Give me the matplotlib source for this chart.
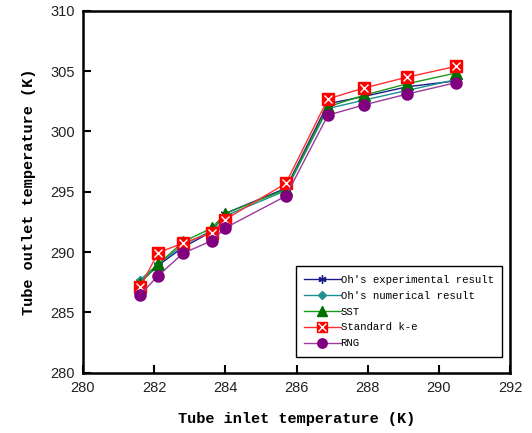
import matplotlib
matplotlib.use('Agg')
import matplotlib.pyplot as plt

# inlet temperatures (K)
t_in = [281.60, 282.11, 282.81, 283.62, 283.99, 285.70, 286.88, 287.89, 289.10, 290.48]

# outlet temperatures (K)
oh_exp = [287.5, 288.9, 290.4, 291.7, 293.2, 295.3, 302.3, 302.9, 303.7, 304.2]
oh_num = [287.7, 289.0, 290.6, 291.8, 293.0, 295.1, 301.9, 302.6, 303.4, 304.3]
sst = [287.4, 289.0, 290.85, 292.0, 293.2, 295.2, 302.05, 303.0, 303.95, 304.85]
ske = [287.1, 289.95, 290.75, 291.6, 292.7, 295.7, 302.7, 303.6, 304.5, 305.4]
rng = [286.45, 288.05, 289.9, 290.95, 292.0, 294.65, 301.35, 302.2, 303.1, 304.05]

labels = ["Oh's experimental result", "Oh's numerical result", "SST",
          "Standard k-e", "RNG"]

fig = plt.figure(figsize=(5.32, 4.33), dpi=100)
ax = fig.add_axes([0.156, 0.139, 0.803, 0.836])

l1, = ax.plot(t_in, oh_exp, color='#1a1a8c', lw=1.0, marker=(6, 2, 0),
              ms=7, mew=1.0)
l2, = ax.plot(t_in, oh_num, color='#1f8f8f', lw=1.0, marker='D', ms=4.5)
l3, = ax.plot(t_in, sst, color='#1a9a1a', lw=1.0, marker='^', ms=8,
              mfc='#007000', mec='#007000')
l4, = ax.plot(t_in, ske, color='#ff3030', lw=1.0, marker='s', ms=8.5,
              mfc='#ff0000', mec='#ff0000')
l4x, = ax.plot(t_in, ske, ls='none', marker='x', ms=6, mec='white', mew=1.0)
l5, = ax.plot(t_in, rng, color='#9a3a9a', lw=1.0, marker='o', ms=8,
              mfc='#800080', mec='#800080')

leg = ax.legend([l1, l2, l3, (l4, l4x), l5], labels, loc='lower right',
                bbox_to_anchor=(0.981, 0.044), borderaxespad=0,
                fancybox=False, edgecolor='black',
                framealpha=1, handlelength=3.4, handletextpad=0.0,
                labelspacing=0.55, borderpad=0.8, markerscale=0.85,
                prop={'family': 'Liberation Mono', 'size': 7.7})
leg.get_frame().set_linewidth(1.0)

ax.set_xlim(280, 292)
ax.set_ylim(280, 310)
ax.set_xticks(range(280, 293, 2))
ax.set_yticks(range(280, 311, 5))

for s in ax.spines.values():
    s.set_linewidth(1.8)

ax.tick_params(direction='in', length=6, width=1.5, labelsize=10.5,
               top=False, right=False, pad=6)
for lab in ax.get_xticklabels() + ax.get_yticklabels():
    lab.set_family('Liberation Sans')
    lab.set_color('#222222')

ax.set_xlabel('Tube inlet temperature (K)', family='Liberation Mono',
              fontweight='bold', fontsize=11, labelpad=12)
ax.set_ylabel('Tube outlet temperature (K)', family='Liberation Mono',
              fontweight='bold', fontsize=11, labelpad=10)

fig.savefig('out.png', dpi=100)
